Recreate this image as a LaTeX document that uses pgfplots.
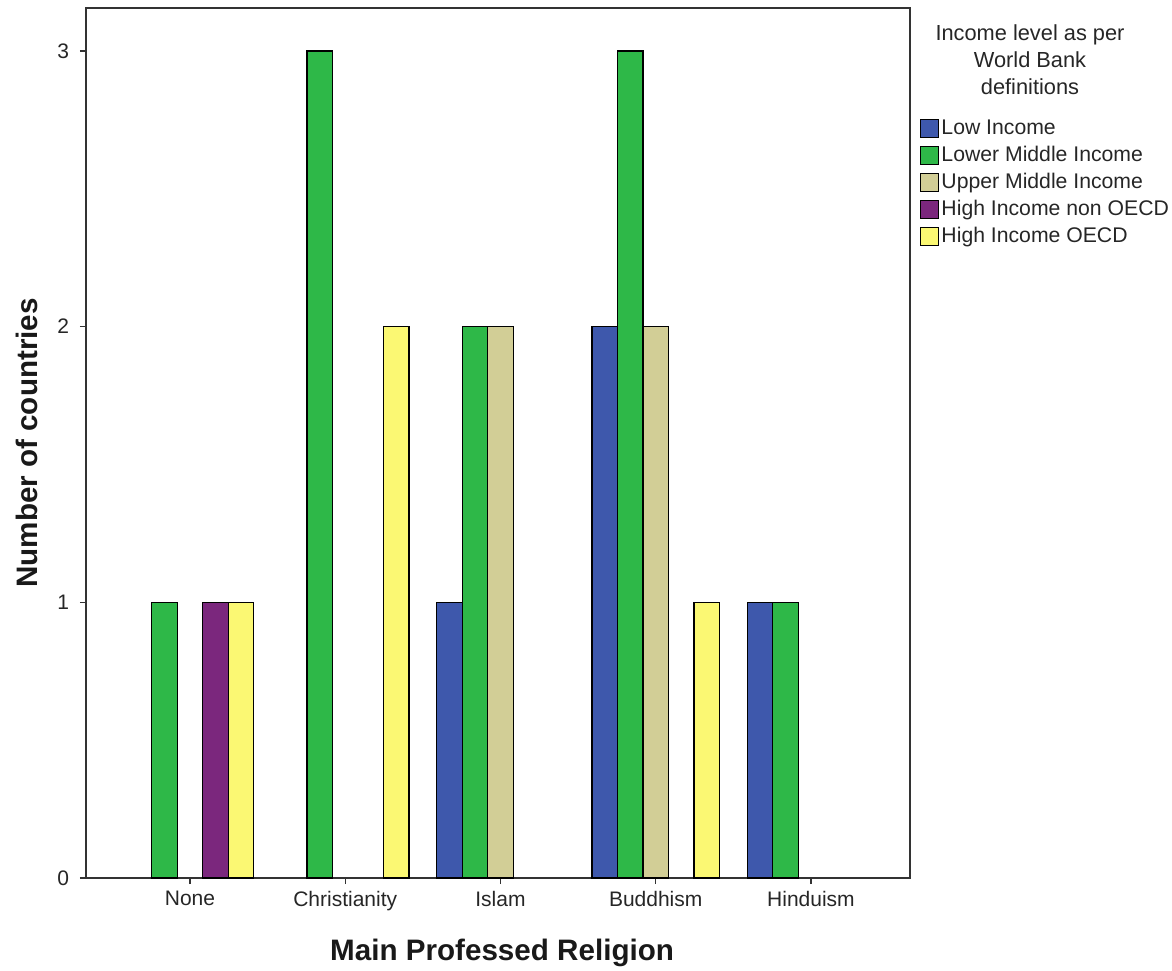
\documentclass[border=0pt]{standalone}
\usepackage{fontspec}
\setmainfont{Liberation Sans}
\usepackage{pgfplots}
\pgfplotsset{compat=1.18}
\definecolor{cLow}{HTML}{3E58AC}
\definecolor{cLM}{HTML}{2EB848}
\definecolor{cUM}{HTML}{D2CE96}
\definecolor{cHN}{HTML}{7B277D}
\definecolor{cHO}{HTML}{FBF873}
\pgfplotsset{sw/.style={legend image code/.code={\draw[##1,draw=black,line width=0.6pt] (0pt,-4.5pt) rectangle (9pt,4.5pt);}}}
\begin{document}
\begin{tikzpicture}
\useasboundingbox (0,0) rectangle (586pt,485pt);
\begin{axis}[
  at={(43pt,46pt)}, anchor=south west,
  width=412pt, height=435pt, scale only axis,
  ybar=0pt, bar width=0.1643,
  xmin=-0.67, xmax=4.638, ymin=0, ymax=3.156,
  xtick={0,1,2,3,4},
  xticklabels={None,Christianity,Islam,Buddhism,Hinduism},
  ytick={0,1,2,3},
  tick pos=left, tick align=outside, major tick length=3pt,
  tick style={black!80, line width=0.6pt},
  axis line style={black!80, line width=0.6pt},
  /pgf/number format/assume math mode=true,
  ticklabel style={font=\fontsize{10.5}{12}\selectfont, text=black!85},
  yticklabel style={xshift=-2pt},
  xlabel={Main Professed Religion},
  ylabel={Number of countries},
  every axis x label/.style={at={(axis description cs:0.505,-0.0862)}, anchor=center,
    font=\fontsize{14.8}{16}\selectfont\bfseries, text=black!90},
  every axis y label/.style={at={(axis description cs:-0.0716,0.5)}, rotate=90, anchor=center,
    font=\fontsize{14.8}{16}\selectfont\bfseries, text=black!90},
  legend style={at={(axis description cs:1.012,0.876)}, anchor=north west,
    draw=none, fill=none, inner sep=0pt, row sep=1pt,
    font=\fontsize{10.6}{12}\selectfont, text=black!85,
    nodes={inner sep=1pt, text height=8pt, text depth=2.5pt}},
  legend cell align=left,
  clip=false,
]
\addplot[fill=cLow, draw=black, line width=0.6pt, sw] coordinates {(2,1) (3,2) (4,1)};
\addplot[fill=cLM, draw=black, line width=0.6pt, sw] coordinates {(0,1) (1,3) (2,2) (3,3) (4,1)};
\addplot[fill=cUM, draw=black, line width=0.6pt, sw] coordinates {(2,2) (3,2)};
\addplot[fill=cHN, draw=black, line width=0.6pt, sw] coordinates {(0,1)};
\addplot[fill=cHO, draw=black, line width=0.6pt, sw] coordinates {(0,1) (1,2) (3,1)};
\legend{Low Income, Lower Middle Income, Upper Middle Income, High Income non OECD, High Income OECD}
\end{axis}
\node[align=center, font=\fontsize{10.9}{13.5}\selectfont, text=black!85] at (515pt,455pt) {Income level as per\\World Bank\\definitions};
\end{tikzpicture}
\end{document}
